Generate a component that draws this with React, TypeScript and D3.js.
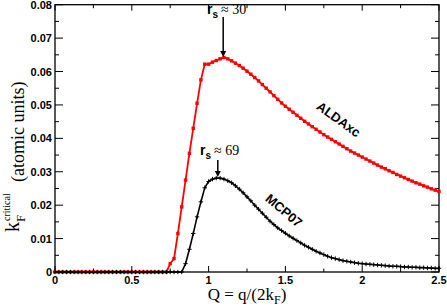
import React, { useEffect, useRef } from 'react';
import * as d3 from 'd3';

// Q = q/(2kF) sampling grid
const qValues = [
  0, 0.025, 0.05, 0.075, 0.1, 0.125, 0.15, 0.175, 0.2, 0.225,
  0.25, 0.275, 0.3, 0.325, 0.35, 0.375, 0.4, 0.425, 0.45, 0.475,
  0.5, 0.525, 0.55, 0.575, 0.6, 0.625, 0.65, 0.675, 0.7, 0.725,
  0.75, 0.775, 0.8, 0.825, 0.85, 0.875, 0.9, 0.925, 0.95, 0.975,
  1.0, 1.025, 1.05, 1.075, 1.1, 1.125, 1.15, 1.175, 1.2, 1.225,
  1.25, 1.275, 1.3, 1.325, 1.35, 1.375, 1.4, 1.425, 1.45, 1.475,
  1.5, 1.525, 1.55, 1.575, 1.6, 1.625, 1.65, 1.675, 1.7, 1.725,
  1.75, 1.775, 1.8, 1.825, 1.85, 1.875, 1.9, 1.925, 1.95, 1.975,
  2.0, 2.025, 2.05, 2.075, 2.1, 2.125, 2.15, 2.175, 2.2, 2.225,
  2.25, 2.275, 2.3, 2.325, 2.35, 2.375, 2.4, 2.425, 2.45, 2.475,
  2.5,
];

// ALDAxc critical kF
const aldaxc = [
  0, 0, 0, 0, 0, 0, 0, 0, 0, 0,
  0, 0, 0, 0, 0, 0, 0, 0, 0, 0,
  0, 0, 0, 0, 0, 0, 0, 0, 0, 0,
  0.0025, 0.004, 0.0115, 0.0195, 0.0275, 0.0355, 0.043, 0.0505, 0.0575, 0.0622,
  0.0622, 0.0628, 0.0633, 0.0638, 0.0642, 0.0638, 0.0632, 0.0625, 0.0618, 0.061,
  0.0601, 0.0592, 0.0582, 0.0572, 0.0561, 0.055, 0.0539, 0.0528, 0.0517, 0.0506,
  0.0496, 0.0487, 0.0478, 0.0469, 0.046, 0.0451, 0.0443, 0.0435, 0.0427, 0.0419,
  0.0411, 0.0404, 0.0397, 0.039, 0.0383, 0.0376, 0.0369, 0.0362, 0.0356, 0.035,
  0.0344, 0.0338, 0.0332, 0.0326, 0.032, 0.0314, 0.0309, 0.0303, 0.0298, 0.0292,
  0.0287, 0.0282, 0.0277, 0.0272, 0.0267, 0.0263, 0.0258, 0.0254, 0.0249, 0.0245,
  0.0241,
];

// MCP07 critical kF
const mcp07 = [
  0, 0, 0, 0, 0, 0, 0, 0, 0, 0,
  0, 0, 0, 0, 0, 0, 0, 0, 0, 0,
  0, 0, 0, 0, 0, 0, 0, 0, 0, 0,
  0, 0, 0, 0, 0.0025, 0.0068, 0.0115, 0.0165, 0.021, 0.0252,
  0.0271, 0.0278, 0.0281, 0.0281, 0.0278, 0.0273, 0.0267, 0.0258, 0.0248, 0.0237,
  0.0225, 0.0213, 0.02, 0.0188, 0.0176, 0.0164, 0.0152, 0.0142, 0.0132, 0.0124,
  0.0116, 0.0108, 0.0101, 0.0094, 0.0087, 0.008, 0.0074, 0.0068, 0.0062, 0.0057,
  0.0052, 0.0047, 0.0043, 0.004, 0.0037, 0.0034, 0.0032, 0.003, 0.0028, 0.0026,
  0.0025, 0.0024, 0.0023, 0.0022, 0.0021, 0.002, 0.0019, 0.0018, 0.0017, 0.0017,
  0.0016, 0.0015, 0.0015, 0.0014, 0.0014, 0.0013, 0.0013, 0.0012, 0.0012, 0.0011,
  0.0011,
];

const xTicks = [0, 0.5, 1, 1.5, 2, 2.5];
const xMinor = [0.25, 0.75, 1.25, 1.75, 2.25];
const yTicks = [0, 0.01, 0.02, 0.03, 0.04, 0.05, 0.06, 0.07, 0.08];
const yMinor = [0.005, 0.015, 0.025, 0.035, 0.045, 0.055, 0.065, 0.075];

const W = 447, H = 308;
const left = 55, right = 439, top = 4.7, bottom = 272;

export default function App() {
  const ref = useRef<SVGSVGElement>(null);

  useEffect(() => {
    const svg = d3.select(ref.current);
    svg.selectAll('*').remove();

    const x = d3.scaleLinear().domain([0, 2.5]).range([left, right]);
    const y = d3.scaleLinear().domain([0, 0.08]).range([bottom, top]);
    const tickFont = '"Liberation Sans", Arial, sans-serif';
    const serif = '"Liberation Serif", "Times New Roman", serif';

    // frame
    svg.append('rect')
      .attr('x', left).attr('y', top)
      .attr('width', right - left).attr('height', bottom - top)
      .attr('fill', 'none').attr('stroke', '#000').attr('stroke-width', 1.3);

    // ticks (inside, mirrored on all sides)
    const tk = svg.append('g').attr('stroke', '#000').attr('stroke-width', 1);
    xTicks.forEach(v => {
      tk.append('line').attr('x1', x(v)).attr('x2', x(v)).attr('y1', bottom).attr('y2', bottom - 6);
      tk.append('line').attr('x1', x(v)).attr('x2', x(v)).attr('y1', top).attr('y2', top + 6);
    });
    xMinor.forEach(v => {
      tk.append('line').attr('x1', x(v)).attr('x2', x(v)).attr('y1', bottom).attr('y2', bottom - 3.5);
      tk.append('line').attr('x1', x(v)).attr('x2', x(v)).attr('y1', top).attr('y2', top + 3.5);
    });
    yTicks.forEach(v => {
      tk.append('line').attr('x1', left).attr('x2', left + 8).attr('y1', y(v)).attr('y2', y(v));
      tk.append('line').attr('x1', right).attr('x2', right - 8).attr('y1', y(v)).attr('y2', y(v));
    });
    yMinor.forEach(v => {
      tk.append('line').attr('x1', left).attr('x2', left + 4).attr('y1', y(v)).attr('y2', y(v));
      tk.append('line').attr('x1', right).attr('x2', right - 4).attr('y1', y(v)).attr('y2', y(v));
    });

    // tick labels
    svg.append('g').selectAll('text').data(xTicks).enter().append('text')
      .attr('x', d => x(d)).attr('y', 284)
      .attr('text-anchor', 'middle')
      .style('font', `bold 11px ${tickFont}`)
      .text(d => String(d));
    svg.append('g').selectAll('text').data(yTicks).enter().append('text')
      .attr('x', 52).attr('y', d => y(d) + 4)
      .attr('text-anchor', 'end')
      .style('font', `bold 11px ${tickFont}`)
      .text(d => (d === 0 ? '0' : d.toFixed(2)));

    const line = d3.line<[number, number]>().x(d => x(d[0])).y(d => y(d[1]));
    const redPts: [number, number][] = qValues.map((q, i) => [q, aldaxc[i]]);
    const blkPts: [number, number][] = qValues.map((q, i) => [q, mcp07[i]]);

    // ALDAxc
    svg.append('path').datum(redPts).attr('d', line)
      .attr('fill', 'none').attr('stroke', '#ff0000').attr('stroke-width', 1.8);
    svg.append('g').selectAll('rect').data(redPts).enter().append('rect')
      .attr('x', d => x(d[0]) - 1.7).attr('y', d => y(d[1]) - 1.7)
      .attr('width', 3.4).attr('height', 3.4).attr('fill', '#ff0000');

    // MCP07
    svg.append('path').datum(blkPts).attr('d', line)
      .attr('fill', 'none').attr('stroke', '#000').attr('stroke-width', 1.6);
    const plus = svg.append('g').attr('stroke', '#000').attr('stroke-width', 1);
    blkPts.forEach(d => {
      const px = x(d[0]), py = y(d[1]);
      plus.append('line').attr('x1', px - 2.2).attr('x2', px + 2.2).attr('y1', py).attr('y2', py);
      plus.append('line').attr('x1', px).attr('x2', px).attr('y1', py - 2.2).attr('y2', py + 2.2);
    });

    // annotations
    const arrow = (ax: number, y1: number, y2: number) => {
      svg.append('line').attr('x1', ax).attr('x2', ax).attr('y1', y1).attr('y2', y2 - 5)
        .attr('stroke', '#000').attr('stroke-width', 1.5);
      svg.append('path')
        .attr('d', `M${ax - 3},${y2 - 6} L${ax + 3},${y2 - 6} L${ax},${y2} Z`)
        .attr('fill', '#000');
    };
    const rsLabel = (tx: number, ty: number, val: string) => {
      const t = svg.append('text').attr('x', tx).attr('y', ty);
      t.append('tspan').style('font', `bold 14px ${tickFont}`).text('r');
      t.append('tspan').attr('dy', 4).style('font', `bold 10px ${tickFont}`).text('s');
      t.append('tspan').attr('dy', -4).attr('dx', 3)
        .style('font', `14px ${serif}`).text(`\u2248 ${val}`);
    };
    rsLabel(207, 14, '30');
    arrow(x(1.095), 17, 57);
    rsLabel(200, 155, '69');
    arrow(x(1.06), 160, 177);

    svg.append('text')
      .attr('transform', 'translate(336,123) rotate(36)')
      .attr('text-anchor', 'middle')
      .style('font', `bold 13px ${tickFont}`)
      .text('ALDAxc');
    svg.append('text')
      .attr('transform', 'translate(281,214) rotate(40)')
      .attr('text-anchor', 'middle')
      .style('font', `bold 13px ${tickFont}`)
      .text('MCP07');

    // axis titles
    const xl = svg.append('text').attr('x', 247).attr('y', 300)
      .attr('text-anchor', 'middle').style('font', `17px ${serif}`);
    xl.append('tspan').text('Q = q/(2k');
    xl.append('tspan').attr('dy', 3.5).style('font-size', '12px').text('F');
    xl.append('tspan').attr('dy', -3.5).text(')');

    const yl = svg.append('g').attr('transform', 'translate(24,232) rotate(-90)');
    yl.append('text').attr('x', 0).attr('y', -5).style('font', `20px ${serif}`).text('k');
    yl.append('text').attr('x', 10).attr('y', 1).style('font', `13px ${serif}`).text('F');
    yl.append('text').attr('x', 11).attr('y', -14).style('font', `10px ${serif}`).text('critical');
    yl.append('text').attr('x', 50).attr('y', 0).style('font', `18px ${serif}`).text('(atomic units)');
  }, []);

  return (
    <svg ref={ref} width={W} height={H}
      style={{ position: 'absolute', left: 0, top: 0, background: '#fff' }} />
  );
}
